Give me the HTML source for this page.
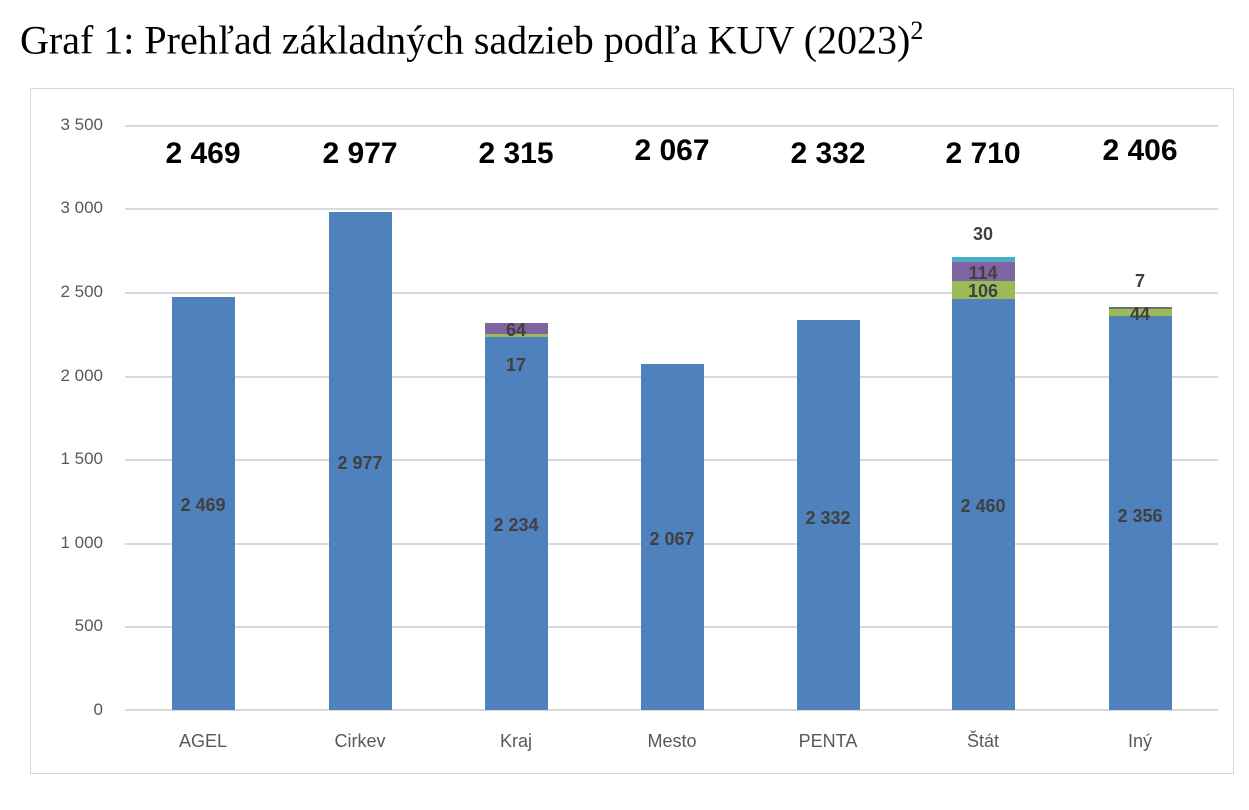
<!DOCTYPE html>
<html><head><meta charset="utf-8"><style>
body{margin:0;width:1249px;height:810px;background:#fff;position:relative;overflow:hidden;font-family:"Liberation Sans",sans-serif}
.t{position:absolute;left:20px;top:16px;font-family:"Liberation Serif",serif;font-size:40px;color:#000;white-space:nowrap}
.box{position:absolute;left:30px;top:88px;width:1204px;height:686px;border:1.5px solid #d9d9d9;box-sizing:border-box}
.g{position:absolute;left:125px;width:1093px;height:1.5px;background:#d9d9d9}
.yl{position:absolute;left:40px;width:63px;text-align:right;font-size:17px;color:#595959}
.b{position:absolute;width:63px}
.xl{position:absolute;width:120px;text-align:center;font-size:18px;color:#595959;top:731px}
.tot{position:absolute;width:160px;text-align:center;font-size:30px;font-weight:bold;color:#000}
.dl{position:absolute;width:80px;text-align:center;font-size:18px;font-weight:bold;color:#404040}
</style></head><body>
<div class="t">Graf 1: Prehľad základných sadzieb podľa KUV (2023)<sup style="font-size:26px">2</sup></div>
<div class="box"></div>
<div class="g" style="top:125px"></div><div class="g" style="top:208px"></div><div class="g" style="top:292px"></div><div class="g" style="top:376px"></div><div class="g" style="top:459px"></div><div class="g" style="top:543px"></div><div class="g" style="top:626px"></div><div class="g" style="top:709px"></div>
<div class="yl" style="top:115px">3 500</div><div class="yl" style="top:198px">3 000</div><div class="yl" style="top:282px">2 500</div><div class="yl" style="top:366px">2 000</div><div class="yl" style="top:449px">1 500</div><div class="yl" style="top:533px">1 000</div><div class="yl" style="top:616px">500</div><div class="yl" style="top:700px">0</div>

<div class="b" style="left:172px;top:297px;height:413px;background:#4f81bd"></div>
<div class="b" style="left:329px;top:212px;height:498px;background:#4f81bd"></div>
<div class="b" style="left:485px;top:337px;height:373px;background:#4f81bd"></div>
<div class="b" style="left:485px;top:334px;height:3px;background:#9bbb59"></div>
<div class="b" style="left:485px;top:323px;height:11px;background:#8064a2"></div>
<div class="b" style="left:641px;top:364px;height:346px;background:#4f81bd"></div>
<div class="b" style="left:797px;top:320px;height:390px;background:#4f81bd"></div>
<div class="b" style="left:952px;top:299px;height:411px;background:#4f81bd"></div>
<div class="b" style="left:952px;top:281px;height:18px;background:#9bbb59"></div>
<div class="b" style="left:952px;top:262px;height:19px;background:#8064a2"></div>
<div class="b" style="left:952px;top:257px;height:5px;background:#4bacc6"></div>
<div class="b" style="left:1109px;top:316px;height:394px;background:#4f81bd"></div>
<div class="b" style="left:1109px;top:309px;height:7px;background:#9bbb59"></div>
<div class="b" style="left:1109px;top:307px;height:2px;background:#6f6f6f"></div>

<div class="dl" style="left:163px;top:495px">2 469</div>
<div class="dl" style="left:320px;top:453px">2 977</div>
<div class="dl" style="left:476px;top:515px">2 234</div>
<div class="dl" style="left:476px;top:355px">17</div>
<div class="dl" style="left:476px;top:320px">64</div>
<div class="dl" style="left:632px;top:529px">2 067</div>
<div class="dl" style="left:788px;top:508px">2 332</div>
<div class="dl" style="left:943px;top:496px">2 460</div>
<div class="dl" style="left:943px;top:281px">106</div>
<div class="dl" style="left:943px;top:263px">114</div>
<div class="dl" style="left:943px;top:224px">30</div>
<div class="dl" style="left:1100px;top:506px">2 356</div>
<div class="dl" style="left:1100px;top:304px">44</div>
<div class="dl" style="left:1100px;top:271px">7</div>

<div class="tot" style="left:123px;top:137px">2 469</div>
<div class="tot" style="left:280px;top:137px">2 977</div>
<div class="tot" style="left:436px;top:137px">2 315</div>
<div class="tot" style="left:592px;top:134px">2 067</div>
<div class="tot" style="left:748px;top:137px">2 332</div>
<div class="tot" style="left:903px;top:137px">2 710</div>
<div class="tot" style="left:1060px;top:134px">2 406</div>

<div class="xl" style="left:143px">AGEL</div>
<div class="xl" style="left:300px">Cirkev</div>
<div class="xl" style="left:456px">Kraj</div>
<div class="xl" style="left:612px">Mesto</div>
<div class="xl" style="left:768px">PENTA</div>
<div class="xl" style="left:923px">Štát</div>
<div class="xl" style="left:1080px">Iný</div>
</body></html>
